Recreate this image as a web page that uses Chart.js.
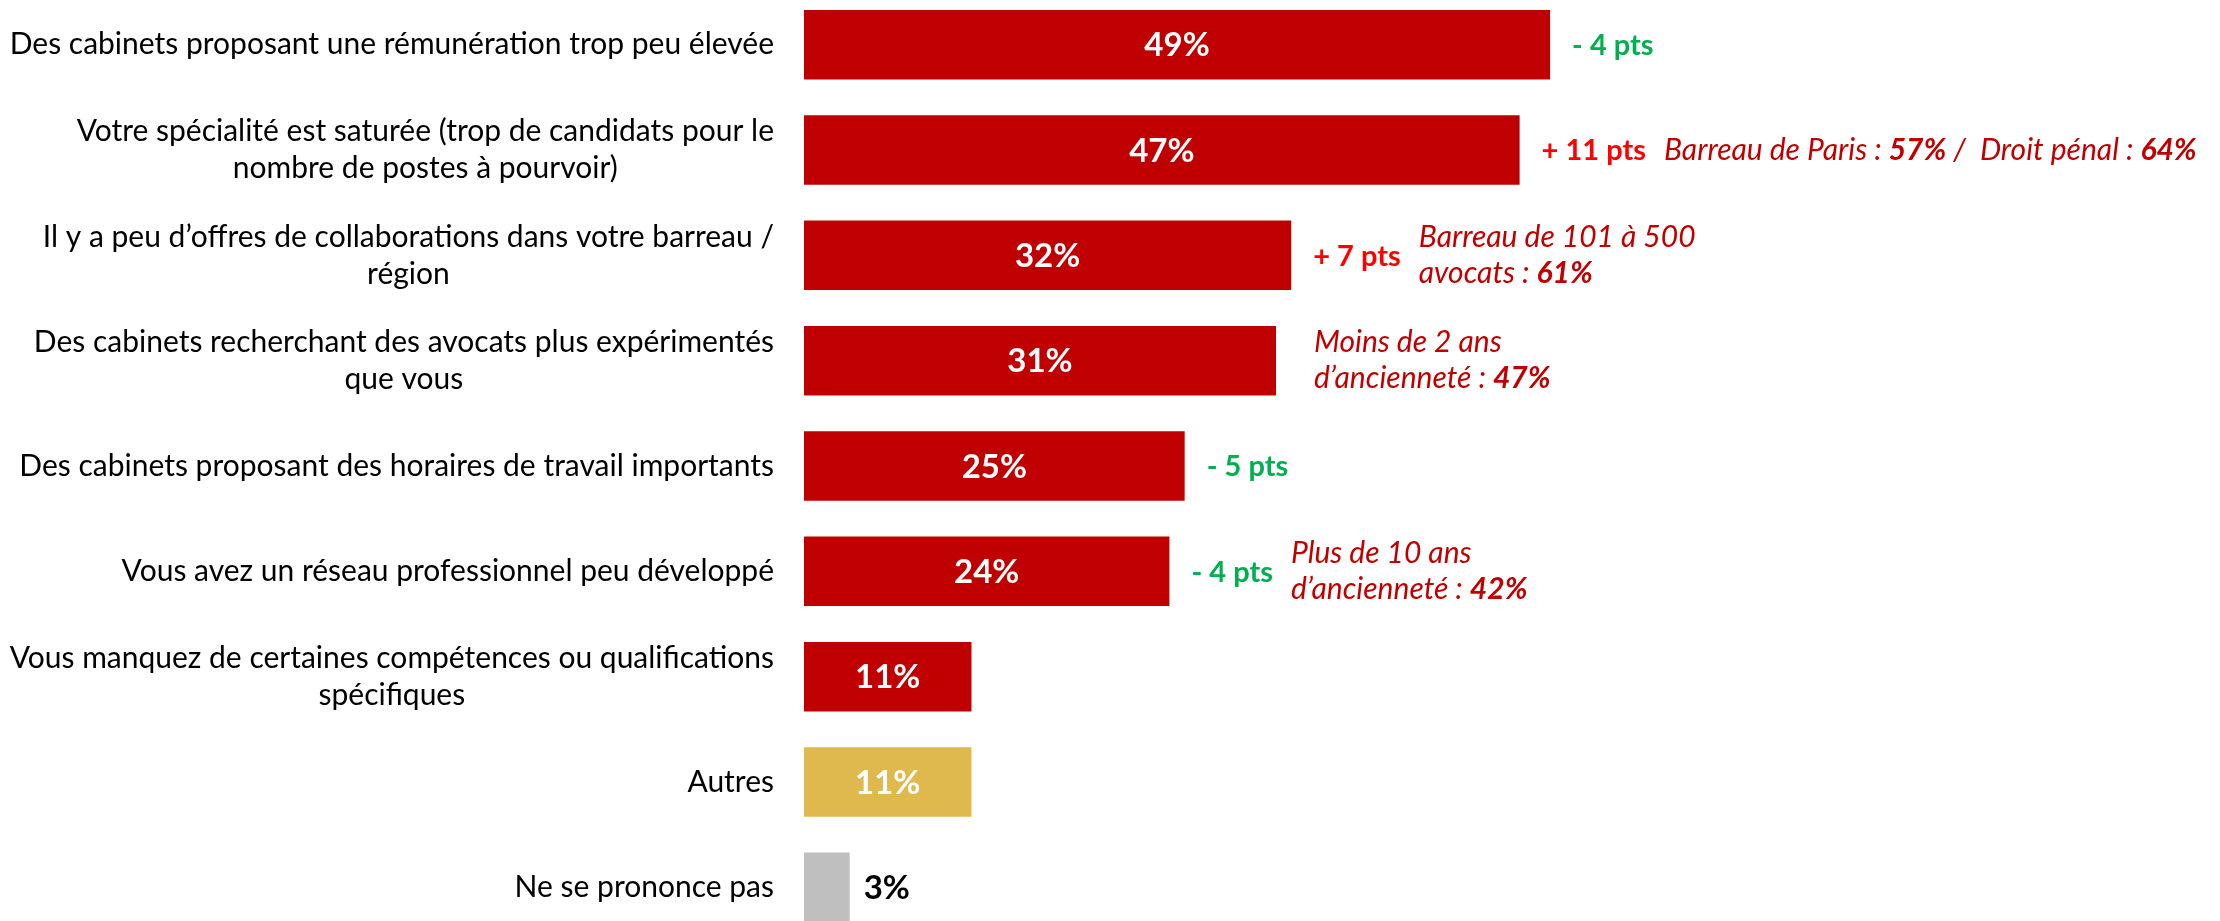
<!DOCTYPE html>
<html>
<head>
<meta charset="utf-8">
<script src="https://cdn.jsdelivr.net/npm/chart.js@4"></script>
<style>
  html, body { margin: 0; padding: 0; background: #fff; overflow: hidden; }
  #wrap { position: absolute; left: 0; top: -8px; width: 2220px; height: 948px; }
</style>
</head>
<body>
<div id="wrap"><canvas id="myChart"></canvas></div>
<script>
const categories = [
  ["Des cabinets proposant une rémunération trop peu élevée"],
  ["Votre spécialité est saturée (trop de candidats pour le", "nombre de postes à pourvoir)"],
  ["Il y a peu d’offres de collaborations dans votre barreau /", "région"],
  ["Des cabinets recherchant des avocats plus expérimentés", "que vous"],
  ["Des cabinets proposant des horaires de travail importants"],
  ["Vous avez un réseau professionnel peu développé"],
  ["Vous manquez de certaines compétences ou qualifications", "spécifiques"],
  ["Autres"],
  ["Ne se prononce pas"],
];
const values = [49, 47, 32, 31, 25, 24, 11, 11, 3];
const evolutions = ["- 4 pts", "+ 11 pts", "+ 7 pts", "", "- 5 pts", "- 4 pts", "", "", ""];
// notes: lines of [text, bold] segments
const notes = [
  null,
  [[["Barreau de Paris : ", false], ["57%", true], [" /  Droit pénal : ", false], ["64%", true]]],
  [[["Barreau de 101 à 500", false]], [["avocats : ", false], ["61%", true]]],
  [[["Moins de 2 ans", false]], [["d’ancienneté : ", false], ["47%", true]]],
  null,
  [[["Plus de 10 ans", false]], [["d’ancienneté : ", false], ["42%", true]]],
  null,
  null,
  null,
];

const barColors = ["#C00000", "#C00000", "#C00000", "#C00000", "#C00000", "#C00000", "#C00000", "#DFB84E", "#BFBFBF"];
const FONT = "Lato";

const labelsPlugin = {
  id: "labelsPlugin",
  afterDraw(chart) {
    const ctx = chart.ctx;
    const yScale = chart.scales.y;
    const meta = chart.getDatasetMeta(0);
    ctx.save();
    ctx.textBaseline = "middle";

    // category labels: block right-aligned, lines centred
    ctx.font = "30px " + FONT;
    ctx.fillStyle = "#000";
    ctx.textAlign = "center";
    const labelRight = chart.chartArea.left - 30;
    categories.forEach((lines, i) => {
      const y = yScale.getPixelForTick(i);
      const w = Math.max(...lines.map((l) => ctx.measureText(l).width));
      const cx = labelRight - w / 2;
      lines.forEach((l, k) => {
        ctx.fillText(l, cx, y + (k - (lines.length - 1) / 2) * 37);
      });
    });

    meta.data.forEach((bar, i) => {
      const y = bar.y;
      // value labels
      ctx.font = "bold 33px " + FONT;
      if (values[i] < 5) {
        ctx.textAlign = "left";
        ctx.fillStyle = "#000";
        ctx.fillText(values[i] + "%", bar.x + 14, y + 1);
      } else {
        ctx.textAlign = "center";
        ctx.fillStyle = "#fff";
        ctx.fillText(values[i] + "%", (bar.x + bar.base) / 2, y + 1);
      }

      // evolution vs previous wave
      let x = bar.x + 22;
      ctx.textAlign = "left";
      if (evolutions[i]) {
        ctx.font = "bold 29px " + FONT;
        ctx.fillStyle = evolutions[i].startsWith("+") ? "#FF0000" : "#00B050";
        ctx.fillText(evolutions[i], x, y + 1);
        x += ctx.measureText(evolutions[i]).width + 18;
      } else {
        x = bar.x + 38;
      }

      // notes
      const n = notes[i];
      if (n) {
        ctx.fillStyle = "#C00000";
        n.forEach((segs, k) => {
          let sx = x;
          const ly = y + (k - (n.length - 1) / 2) * 36;
          segs.forEach(([t, b]) => {
            ctx.font = (b ? "italic bold " : "italic ") + "30px " + FONT;
            ctx.fillText(t, sx, ly);
            sx += ctx.measureText(t).width;
          });
        });
      }
    });
    ctx.restore();
  },
};

const ctx = document.getElementById("myChart").getContext("2d");

const myChart = new Chart(ctx, {
  type: "bar",
  data: {
    labels: categories,
    datasets: [
      {
        data: values,
        backgroundColor: barColors,
        borderWidth: 0,
        barPercentage: 0.66,
        categoryPercentage: 1,
      },
    ],
  },
  options: {
    indexAxis: "y",
    responsive: true,
    maintainAspectRatio: false,
    animation: false,
    layout: { padding: 0 },
    plugins: {
      legend: { display: false },
      tooltip: { enabled: false },
    },
    scales: {
      x: {
        display: false,
        min: 0,
        max: 93,
      },
      y: {
        grid: { display: false },
        border: { display: false },
        ticks: { display: false },
        afterFit: (scale) => {
          scale.width = 804;
        },
      },
    },
  },
  plugins: [labelsPlugin],
});
</script>
</body>
</html>
